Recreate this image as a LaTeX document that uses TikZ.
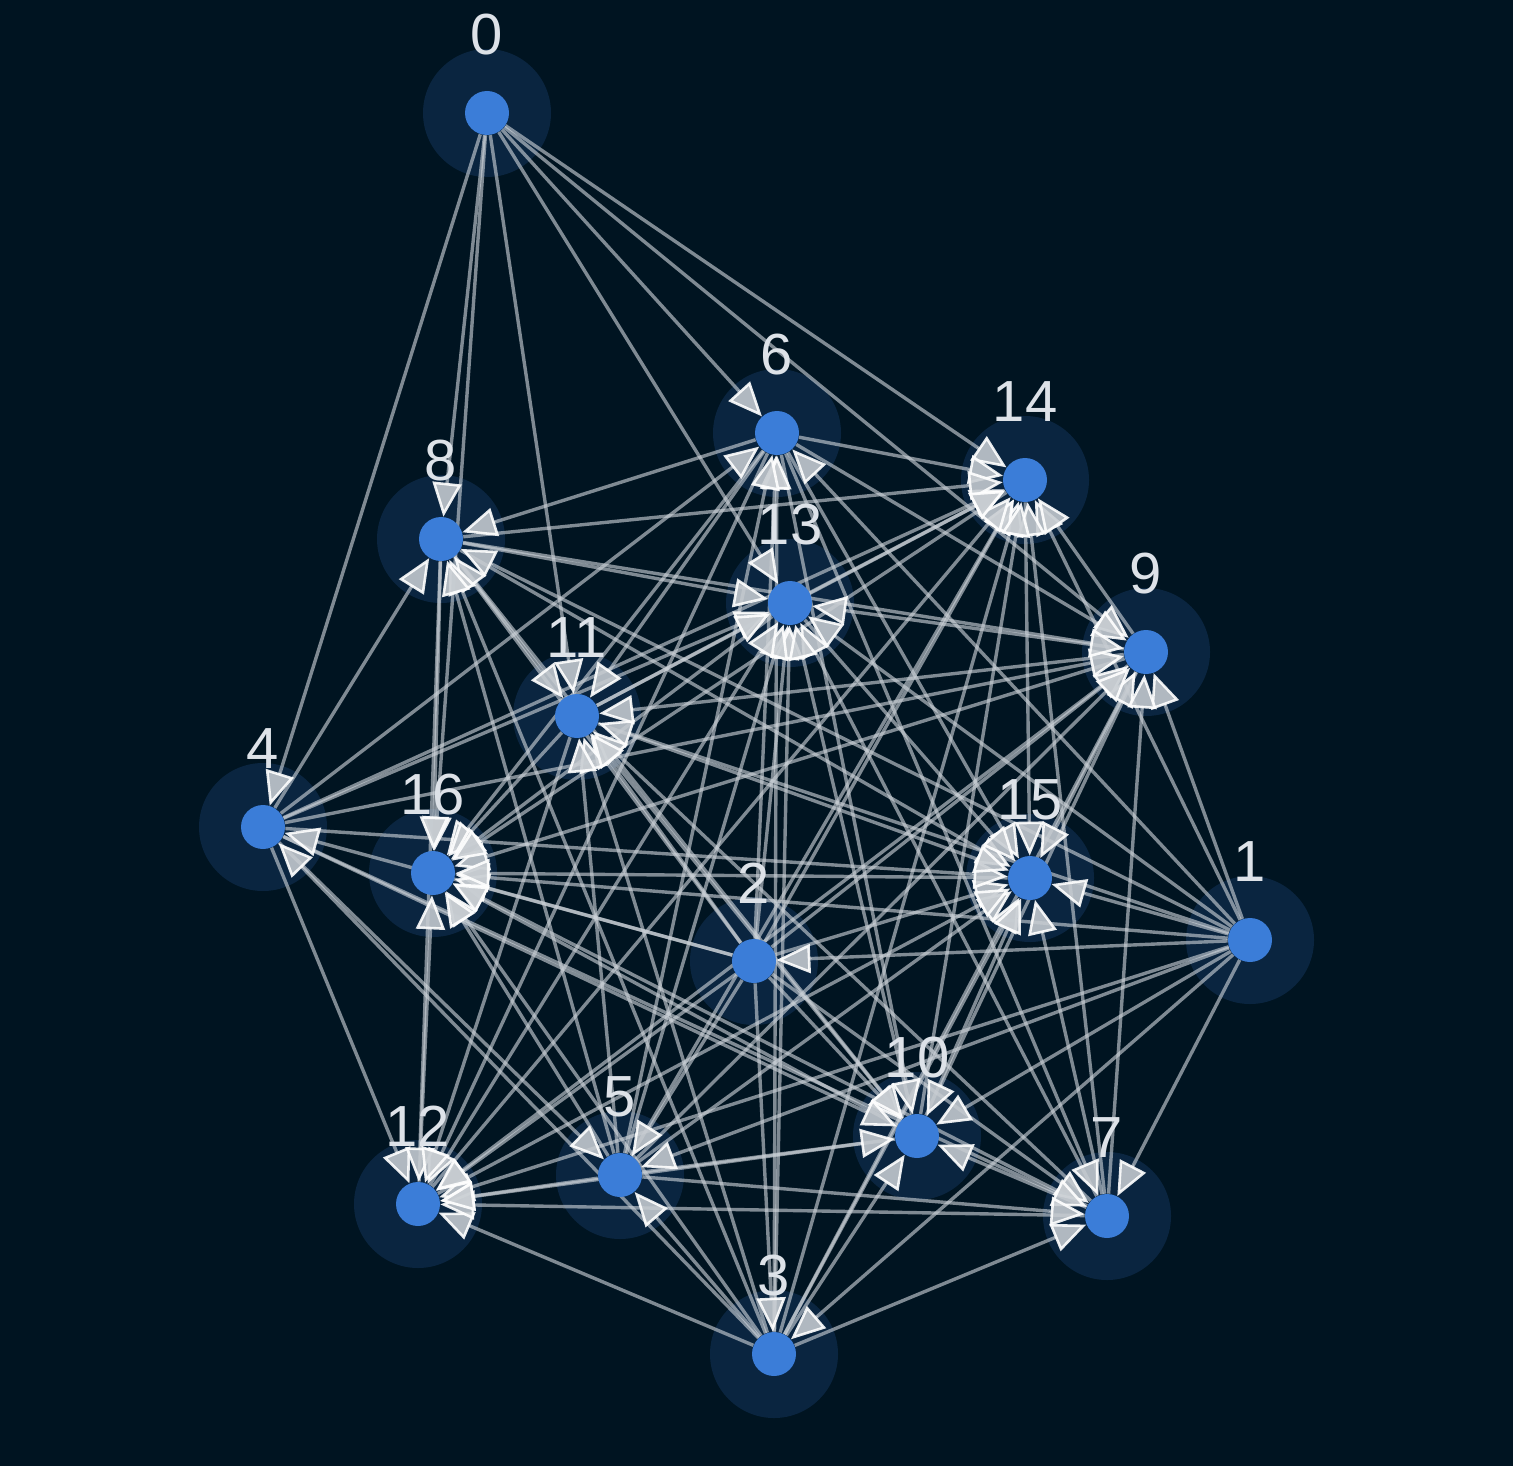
\documentclass[tikz,border=0pt]{standalone}
\usepackage{fontspec}
\setmainfont{Liberation Sans}
\usetikzlibrary{arrows.meta,calc}
\definecolor{bgc}{HTML}{001421}
\definecolor{haloc}{HTML}{0A2540}
\definecolor{dotc}{HTML}{3B7DD8}
\definecolor{edgec}{HTML}{CDD3D9}
\definecolor{tipc}{HTML}{C8CDD2}
\definecolor{labc}{HTML}{DDE2E8}
\pgfdeclarelayer{haloes}
\pgfdeclarelayer{edges}
\pgfdeclarelayer{tips}
\pgfsetlayers{haloes,edges,tips,main}
\begin{document}
\begin{tikzpicture}[x=0.5pt,y=-0.5pt,
  dot/.style={circle,fill=dotc,minimum size=22pt,inner sep=0pt},
  halo/.style={circle,fill=haloc,minimum size=64pt,inner sep=0pt},
  lab/.style={text=labc,font=\fontsize{29}{29}\selectfont,inner sep=0pt},
  edgeline/.style={draw=edgec,line width=1.7pt,draw opacity=0.62,shorten >=16pt},
  edgetip/.style={draw=white,line width=0.1pt,draw opacity=0.9,fill opacity=0.88,
     -{Triangle[length=17pt,width=14.5pt,fill=tipc,color=white,line width=1.3pt]}}]
\useasboundingbox (0,0) rectangle (1513,1466);
\foreach \n/\x/\y in {0/487/113,1/1250/940,2/754/961,3/774/1354,4/263/827,5/620/1175,
  6/777/433,7/1107/1216,8/441/539,9/1146/652,10/917/1136,11/577/716,12/418/1204,
  13/790/603,14/1025/480,15/1030/878,16/433/873}{
  \node[dot] (n\n) at (\x,\y) {};
  \node[lab] (l\n) at (\x,{\y-78}) {\n};
}
\begin{pgfonlayer}{haloes}
  \fill[bgc] (0,0) rectangle (1513,1466);
  \foreach \n in {0,...,16}{\node[halo] (h\n) at (n\n) {};}
\end{pgfonlayer}
\foreach \j/\ins in {2/{1},3/{1,2},4/{0,2,3},5/{1,2,3,4},6/{0,1,2,3,4,5},
  7/{1,2,3,4,5,6},8/{0,1,2,3,4,5,6},9/{0,1,2,3,4,5,6,7,8},
  10/{1,2,3,4,5,6,7,8,9},11/{0,1,2,3,5,6,7,8,9,10},
  12/{1,2,3,4,5,6,7,8,9,10,11},13/{0,1,2,3,4,5,7,8,9,10,11,12},
  14/{0,1,2,3,4,5,6,7,8,9,10,11,12,13},15/{1,2,3,4,5,6,7,8,9,10,11,12,13,14},
  16/{0,1,2,3,5,6,7,8,9,10,11,12,13,14,15}}{
  \foreach \i in \ins {
    \begin{pgfonlayer}{edges}
      \draw[edgeline] (n\i) -- (n\j);
    \end{pgfonlayer}
    \begin{pgfonlayer}{tips}
      \draw[edgetip] ($(n\j)!29pt!(n\i)$) -- (n\j);
    \end{pgfonlayer}
  }
}
\end{tikzpicture}
\end{document}
